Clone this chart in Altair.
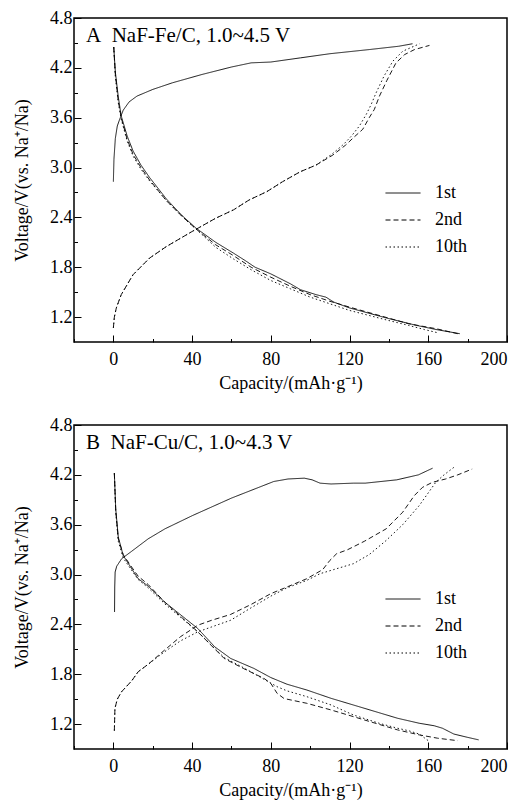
import altair as alt
import pandas as pd

# ---------------- Panel A : NaF-Fe/C ----------------
A_1st_ch_cap = [0, 0.3, 1, 2, 3.2, 5, 8, 12, 20, 30, 45, 60, 70, 80, 95, 110, 130, 145, 152]
A_1st_ch_v = [2.83, 3.1, 3.35, 3.5, 3.58, 3.69, 3.79, 3.86, 3.94, 4.02, 4.12, 4.21, 4.26, 4.27, 4.32, 4.37, 4.42, 4.46, 4.49]
A_1st_dis_cap = [0.2, 1, 2.5, 4, 7, 10, 14, 18.4, 27, 35, 42, 52, 61, 67, 72, 80, 90, 95, 103, 108, 112, 120, 138.6, 154, 164, 176]
A_1st_dis_v = [4.45, 4.15, 3.85, 3.62, 3.38, 3.2, 3.03, 2.88, 2.62, 2.42, 2.27, 2.1, 1.97, 1.88, 1.8, 1.72, 1.6, 1.53, 1.47, 1.44, 1.38, 1.31, 1.19, 1.1, 1.05, 1.0]
A_2nd_ch_cap = [0, 0.5, 1.5, 4, 10, 18.4, 27, 40, 52, 61, 69, 78, 86, 95, 103, 111.5, 118, 122, 126.7, 130, 132.6, 135.2, 139, 143.6, 148, 153, 160.6]
A_2nd_ch_v = [1.07, 1.2, 1.31, 1.47, 1.71, 1.91, 2.05, 2.23, 2.39, 2.49, 2.61, 2.71, 2.83, 2.95, 3.03, 3.15, 3.27, 3.36, 3.46, 3.6, 3.7, 3.86, 4.05, 4.26, 4.36, 4.42, 4.47]
A_2nd_dis_cap = [0.2, 1, 2.5, 4, 7, 10, 14, 18.4, 27, 35, 42, 52, 61, 70, 80, 90, 100, 110, 120, 138, 150, 164, 175]
A_2nd_dis_v = [4.45, 4.12, 3.8, 3.6, 3.34, 3.16, 3.0, 2.85, 2.6, 2.41, 2.26, 2.07, 1.94, 1.8, 1.68, 1.57, 1.47, 1.39, 1.32, 1.2, 1.12, 1.06, 1.0]
A_10th_ch_cap = [0, 0.5, 1.5, 4, 10, 18.4, 27, 40, 52, 61, 69, 78, 86, 95, 103, 111, 117, 121, 125, 128.5, 131, 133.5, 137.5, 142, 147, 155.6]
A_10th_ch_v = [1.07, 1.2, 1.31, 1.47, 1.71, 1.91, 2.05, 2.23, 2.39, 2.49, 2.61, 2.71, 2.83, 2.95, 3.03, 3.16, 3.28, 3.38, 3.5, 3.64, 3.76, 3.9, 4.1, 4.28, 4.4, 4.49]
A_10th_dis_cap = [0.2, 1, 2.5, 4, 7, 10, 14, 18.4, 27, 35, 42, 52, 61, 70, 80, 90, 100, 110, 120, 138, 150, 158, 165]
A_10th_dis_v = [4.45, 4.1, 3.78, 3.58, 3.32, 3.14, 2.98, 2.84, 2.6, 2.41, 2.26, 2.04, 1.9, 1.77, 1.64, 1.54, 1.44, 1.36, 1.28, 1.17, 1.1, 1.05, 1.01]

# ---------------- Panel B : NaF-Cu/C ----------------
B_1st_ch_cap = [0.6, 0.7, 0.9, 1.7, 4.2, 9.3, 17.7, 26.2, 40.2, 60, 81.5, 88.7, 97, 101, 105, 110.6, 122, 128, 144, 155, 162.2]
B_1st_ch_v = [2.55, 2.85, 3.03, 3.1, 3.19, 3.28, 3.43, 3.55, 3.71, 3.92, 4.12, 4.15, 4.16, 4.14, 4.1, 4.09, 4.1, 4.1, 4.14, 4.2, 4.28]
B_1st_dis_cap = [0.5, 1.2, 2.5, 5, 9.3, 12.6, 17.7, 26, 42.9, 51.5, 59.6, 71.4, 80, 88.2, 98.3, 110.6, 121.9, 144.4, 155.4, 163, 167.2, 173, 180, 185.6]
B_1st_dis_v = [4.22, 3.79, 3.45, 3.23, 3.07, 2.95, 2.86, 2.67, 2.35, 2.13, 1.99, 1.87, 1.76, 1.68, 1.61, 1.51, 1.43, 1.27, 1.21, 1.18, 1.15, 1.08, 1.04, 1.01]
B_2nd_ch_cap = [0.5, 0.8, 2, 4.2, 9.3, 12.6, 17.7, 26, 34, 42.9, 50, 59.6, 70, 80, 88.2, 98.3, 106.4, 110, 113.4, 119.1, 127.5, 138.6, 147, 152.9, 157.1, 162.1, 168.8, 175, 182.3]
B_2nd_ch_v = [1.12, 1.39, 1.5, 1.59, 1.72, 1.83, 1.92, 2.09, 2.25, 2.39, 2.45, 2.52, 2.64, 2.77, 2.85, 2.95, 3.06, 3.17, 3.25, 3.3, 3.4, 3.55, 3.75, 3.95, 4.05, 4.11, 4.15, 4.2, 4.27]
B_2nd_dis_cap = [0.5, 1.2, 2.5, 5, 9.3, 12.6, 17.7, 26, 42.9, 56.3, 66, 76.5, 80, 83.2, 86.6, 88.2, 98.3, 110.6, 121.9, 127.5, 144.4, 155.4, 164.7, 175]
B_2nd_dis_v = [4.22, 3.77, 3.43, 3.24, 3.09, 2.98, 2.88, 2.67, 2.31, 1.99, 1.87, 1.75, 1.69, 1.57, 1.51, 1.5, 1.45, 1.37, 1.29, 1.25, 1.13, 1.07, 1.03, 1.0]
B_10th_ch_cap = [0.5, 0.8, 2, 4.2, 9.3, 12.6, 17.7, 26, 34, 42.9, 50, 59.6, 70, 80, 88.2, 98.3, 105, 112, 121.9, 130, 138.6, 147, 155.4, 163.8, 168, 173]
B_10th_ch_v = [1.12, 1.39, 1.5, 1.59, 1.72, 1.83, 1.92, 2.07, 2.2, 2.31, 2.37, 2.45, 2.6, 2.74, 2.84, 2.93, 3.01, 3.06, 3.13, 3.24, 3.41, 3.6, 3.83, 4.11, 4.2, 4.29]
B_10th_dis_cap = [0.5, 1.2, 2.5, 5, 9.3, 12.6, 17.7, 26, 42.9, 56.3, 66, 76.5, 83.2, 88.2, 98.3, 110.6, 121.9, 135, 144.4, 150, 155.4, 160]
B_10th_dis_v = [4.22, 3.75, 3.4, 3.2, 3.05, 2.94, 2.84, 2.65, 2.31, 2.0, 1.88, 1.74, 1.65, 1.6, 1.53, 1.43, 1.31, 1.21, 1.15, 1.12, 1.08, 1.0]

cycles = ["1st", "2nd", "10th"]
dash_range = [[1, 0], [5, 3], [1.5, 2.5]]

x_major = [0, 40, 80, 120, 160, 200]
x_minor = [-20, 20, 60, 100, 140, 180]
y_major = [1.2, 1.8, 2.4, 3.0, 3.6, 4.2, 4.8]
y_minor = [1.5, 2.1, 2.7, 3.3, 3.9, 4.5]

x_title = "Capacity/(mAh·g⁻¹)"
y_title = "Voltage/V(vs. Na⁺/Na)"
FONT = "Liberation Serif"
LBL = 18
TTL = 18


def build_df(series):
    rows = []
    for cyc, seg, caps, vs in series:
        for i, (c, v) in enumerate(zip(caps, vs)):
            rows.append({"cycle": cyc, "seg": cyc + "-" + seg, "idx": i, "cap": c, "v": v})
    return pd.DataFrame(rows)


dfA = build_df([
    ("1st", "ch", A_1st_ch_cap, A_1st_ch_v),
    ("1st", "dis", A_1st_dis_cap, A_1st_dis_v),
    ("2nd", "ch", A_2nd_ch_cap, A_2nd_ch_v),
    ("2nd", "dis", A_2nd_dis_cap, A_2nd_dis_v),
    ("10th", "ch", A_10th_ch_cap, A_10th_ch_v),
    ("10th", "dis", A_10th_dis_cap, A_10th_dis_v),
])
dfB = build_df([
    ("1st", "ch", B_1st_ch_cap, B_1st_ch_v),
    ("1st", "dis", B_1st_dis_cap, B_1st_dis_v),
    ("2nd", "ch", B_2nd_ch_cap, B_2nd_ch_v),
    ("2nd", "dis", B_2nd_dis_cap, B_2nd_dis_v),
    ("10th", "ch", B_10th_ch_cap, B_10th_ch_v),
    ("10th", "dis", B_10th_dis_cap, B_10th_dis_v),
])


def panel(df, label, ymin, h, leg_y):
    xs = alt.Scale(domain=[-20, 200], nice=False, zero=False)
    ys = alt.Scale(domain=[ymin, 4.8], nice=False, zero=False)
    lines = alt.Chart(df).mark_line(color="black", strokeWidth=0.9).encode(
        x=alt.X("cap:Q", scale=xs, title=x_title,
                axis=alt.Axis(values=x_major, orient="bottom", offset=-7, tickSize=7,
                              labelPadding=8, domain=False, titlePadding=6,
                              labelFont=FONT, titleFont=FONT, labelFontSize=LBL,
                              titleFontSize=TTL, titleFontWeight="normal",
                              labelColor="black", titleColor="black")),
        y=alt.Y("v:Q", scale=ys, title=y_title,
                axis=alt.Axis(values=y_major, orient="left", offset=-7, tickSize=7,
                              labelPadding=2, domain=False, format=".1f", titlePadding=18,
                              labelFont=FONT, titleFont=FONT, labelFontSize=LBL,
                              titleFontSize=TTL, titleFontWeight="normal",
                              labelColor="black", titleColor="black")),
        strokeDash=alt.StrokeDash("cycle:N", scale=alt.Scale(domain=cycles, range=dash_range),
                                  legend=alt.Legend(title=None, orient="none", legendX=311, legendY=leg_y,
                                                    symbolType="stroke", symbolSize=1225,
                                                    symbolStrokeWidth=1, symbolStrokeColor="black",
                                                    labelOffset=14, rowPadding=-8, padding=0,
                                                    labelFont=FONT, labelFontSize=18,
                                                    labelColor="black")),
        detail="seg:N",
        order="idx:Q",
    )
    minor = alt.Chart(df).mark_point(opacity=0).encode(
        x=alt.X("cap:Q", scale=xs, title=None,
                axis=alt.Axis(values=x_minor, orient="bottom", offset=-3.5, tickSize=3.5,
                              labels=False, domain=False)),
        y=alt.Y("v:Q", scale=ys, title=None,
                axis=alt.Axis(values=y_minor, orient="left", offset=-3.5, tickSize=3.5,
                              labels=False, domain=False)),
    )
    txt = alt.Chart(pd.DataFrame({"t": [label]})).mark_text(
        align="left", baseline="middle", font=FONT, fontSize=21, color="black"
    ).encode(x=alt.value(12), y=alt.value(18), text="t:N")
    return alt.layer(lines, minor, txt).resolve_axis(x="independent", y="independent").properties(
        width=433, height=h)


top = panel(dfA, "A\u00a0\u00a0NaF-Fe/C, 1.0~4.5 V", 0.9, 324, 157)
bot = panel(dfB, "B\u00a0\u00a0NaF-Cu/C, 1.0~4.3 V", 0.9, 324, 156)

chart = alt.vconcat(top, bot, spacing=22).resolve_scale(strokeDash="independent").resolve_legend(
    strokeDash="independent").properties(
    padding={"left": 4, "top": 0, "right": 5, "bottom": 0}
).configure_view(stroke="black", strokeWidth=1.5).configure_axis(
    grid=False, tickColor="black", tickWidth=1
)

chart.save("out.html", embed_options={"renderer": "svg", "actions": False})
